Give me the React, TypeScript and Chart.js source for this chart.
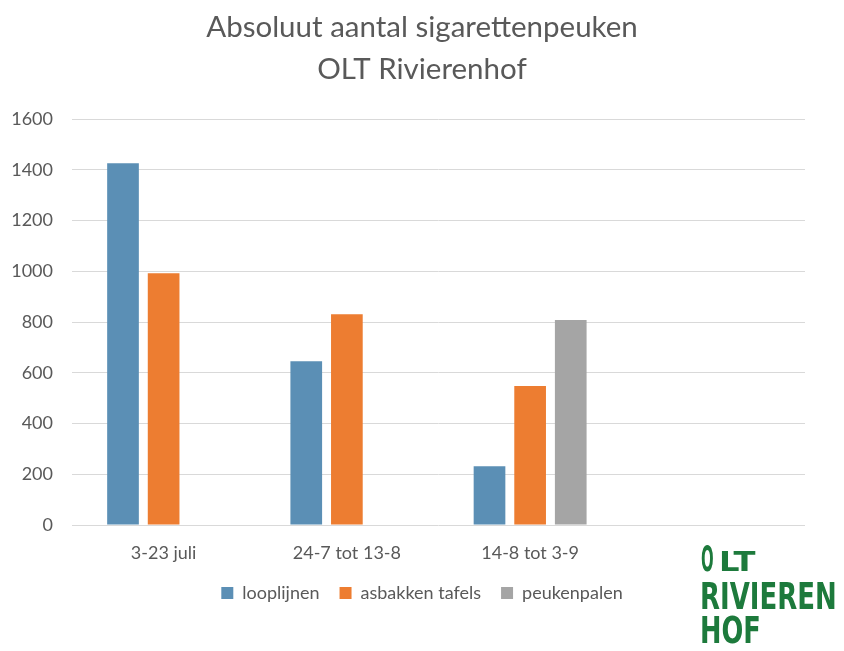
import React, { useEffect, useRef } from "react";
import { Chart, registerables } from "chart.js";

Chart.register(...registerables);

const categories = ["3-23 juli", "24-7 tot 13-8", "14-8 tot 3-9", ""];
const looplijnen = [1426, 646, 232, null];
const asbakkenTafels = [993, 831, 548, null];
const peukenpalen = [null, null, 808, null];
const yTicks = [0, 200, 400, 600, 800, 1000, 1200, 1400, 1600];

const FONT = "Lato, 'Open Sans', sans-serif";
const TXT = "#595959";

export default function App() {
  const ref = useRef<HTMLCanvasElement | null>(null);
  useEffect(() => {
    document.body.style.margin = "0";
    const c = ref.current!;
    const chart = new Chart(c, {
      type: "bar",
      data: {
        labels: categories,
        datasets: [
          { label: "looplijnen", data: looplijnen, backgroundColor: "#5b8fb5" },
          { label: "asbakken tafels", data: asbakkenTafels, backgroundColor: "#ed7d31" },
          { label: "peukenpalen", data: peukenpalen, backgroundColor: "#a5a5a5" },
        ],
      },
      options: {
        responsive: false,
        animation: false,
        maintainAspectRatio: false,
        layout: { padding: { left: 0, right: 0, top: 0, bottom: 39 } },
        datasets: { bar: { categoryPercentage: 0.665, barPercentage: 0.78 } },
        plugins: {
          title: {
            display: true,
            text: ["Absoluut aantal sigarettenpeuken", "OLT Rivierenhof"],
            color: TXT,
            font: { family: FONT, size: 29.5, weight: "normal", lineHeight: 1.41 },
            padding: { top: 7, bottom: 29 },
          },
          legend: {
            position: "bottom",
            labels: {
              color: TXT,
              font: { family: FONT, size: 18 },
              boxWidth: 12,
              boxHeight: 12,
              padding: 20,
            },
          },
          tooltip: { enabled: false },
        },
        scales: {
          x: {
            grid: { display: false },
            border: { display: false },
            ticks: { color: TXT, font: { family: FONT, size: 18 }, padding: 9, maxRotation: 0 },
            afterFit: (s: any) => { s.height = 39; },
          },
          y: {
            min: 0,
            max: 1600,
            afterBuildTicks: (s: any) => { s.ticks = yTicks.map((v) => ({ value: v })); },
            grid: { color: "#d9d9d9", drawTicks: false },
            border: { display: false },
            ticks: {
              color: TXT,
              font: { family: FONT, size: 18 },
              padding: 19,
              callback: (v: any) => String(v),
            },
            afterFit: (s: any) => { s.width = 72; },
          },
          yRight: {
            type: "linear",
            position: "right",
            display: true,
            grid: { display: false },
            border: { display: false },
            ticks: { display: false },
            afterFit: (s: any) => { s.width = 39; },
          },
        },
      },
    });
    return () => chart.destroy();
  }, []);

  const green = "#1d7a3c";
  const logoFont = "'DejaVu Sans Condensed', 'DejaVu Sans', sans-serif";
  const line = (text: string, left: number, top: number, size: number, sx: number) => (
    <div
      style={{
        position: "absolute",
        left,
        top,
        fontFamily: logoFont,
        fontWeight: "bold",
        fontSize: size,
        lineHeight: 1,
        color: green,
        transform: `scaleX(${sx})`,
        transformOrigin: "left top",
        whiteSpace: "nowrap",
      }}
    >
      {text}
    </div>
  );

  return (
    <div style={{ position: "relative", width: 844, height: 651, overflow: "hidden", background: "#fff" }}>
      <canvas ref={ref} width={844} height={651} style={{ display: "block" }} />
      {line("O", 701, 541, 36, 0.46)}
      {line("LT", 719, 549, 26.5, 1.35)}
      {line("RIVIEREN", 700, 577, 38, 0.76)}
      {line("HOF", 700, 611, 38, 0.75)}
    </div>
  );
}
